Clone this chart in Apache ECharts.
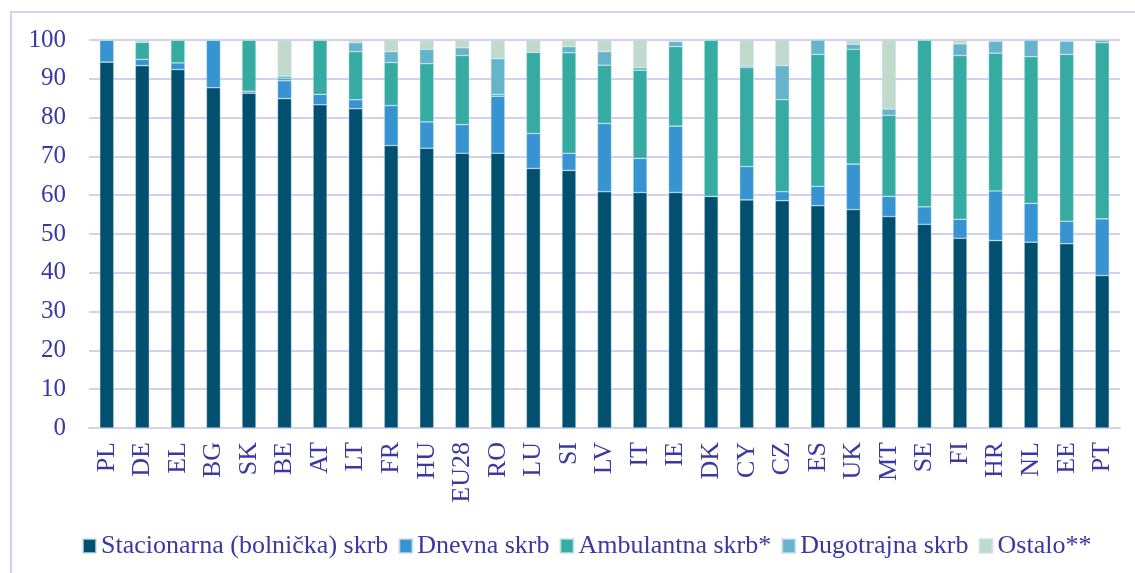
<!DOCTYPE html>
<html>
<head>
<meta charset="utf-8">
<script src="https://cdn.jsdelivr.net/npm/echarts@6/dist/echarts.min.js"></script>
<style>html,body{margin:0;padding:0;background:#fff;}#chart{width:1135px;height:573px;}</style>
</head>
<body>
<div id="chart"></div>
<script>
const categories = ['PL','DE','EL','BG','SK','BE','AT','LT','FR','HU','EU28','RO','LU','SI','LV','IT','IE','DK','CY','CZ','ES','UK','MT','SE','FI','HR','NL','EE','PT'];
const stacionarna = [94.3,93.4,92.4,87.7,86.3,84.9,83.3,82.3,72.8,72.1,70.8,70.8,66.9,66.4,60.9,60.7,60.7,59.7,58.8,58.6,57.3,56.3,54.5,52.5,48.9,48.3,47.9,47.5,39.3];
const dnevna      = [5.7,1.6,1.7,12.3,0.5,4.6,2.7,2.3,10.3,6.8,7.4,14.7,9.0,4.4,17.6,8.8,17.1,0,8.6,2.3,5.0,11.7,5.2,4.5,4.9,12.8,10.0,5.8,14.6];
const ambulantna  = [0,4.4,5.9,0,13.2,0.6,14.0,12.4,11.1,15.0,17.8,0.5,20.9,25.9,15.0,22.7,20.5,40.3,25.5,23.7,34.0,29.6,20.9,43.0,42.2,35.5,37.8,43.0,45.4];
const dugotrajna  = [0,0,0,0,0,0.6,0,2.3,2.8,3.7,2.0,9.2,0,1.6,3.5,0.7,1.3,0,0.4,8.8,3.7,1.3,1.6,0,3.0,3.1,4.3,3.4,0.7];
const ostalo      = [0,0.6,0,0,0,9.3,0,0.7,3.0,2.4,2.0,4.8,3.2,1.7,3.0,7.1,0.4,0,6.7,6.6,0,1.1,17.8,0,1.0,0.3,0,0.3,0];
const yTicks = [0,10,20,30,40,50,60,70,80,90,100];

const seriesNames = ['Stacionarna (bolnička) skrb','Dnevna skrb','Ambulantna skrb*','Dugotrajna skrb','Ostalo**'];
const seriesData = [stacionarna, dnevna, ambulantna, dugotrajna, ostalo];
const colors = ['#02506f','#3893d1','#35aba2','#66b3cc','#c2dacb'];

const txt = '#3b38a3';
const font = 'Liberation Serif';
const gridCol = '#d3d0f2';

const chart = echarts.init(document.getElementById('chart'));
chart.setOption({
  animation: false,
  color: colors,
  textStyle: { fontFamily: font },
  graphic: [{
    type: 'rect', shape: { x: 11, y: 12, width: 1200, height: 600 },
    style: { fill: 'none', stroke: gridCol, lineWidth: 2 }, silent: true
  }],
  grid: { left: 89, right: 15, top: 40, bottom: 145 },
  legend: {
    left: 77, top: 528,
    icon: 'rect', itemWidth: 13, itemHeight: 14, itemGap: 10,
    textStyle: { color: txt, fontSize: 26, fontFamily: font },
    data: seriesNames
  },
  xAxis: {
    type: 'category', data: categories,
    axisLine: { lineStyle: { color: gridCol, width: 2 } },
    axisTick: { show: false },
    axisLabel: { rotate: 90, color: txt, fontSize: 26, fontFamily: font, margin: 14, interval: 0 }
  },
  yAxis: {
    type: 'value', min: 0, max: 100, interval: 10,
    axisLine: { show: false }, axisTick: { show: false },
    splitLine: { lineStyle: { color: gridCol, width: 2 } },
    axisLabel: { color: txt, fontSize: 25, fontFamily: font, margin: 23,
      formatter: v => yTicks.includes(v) ? String(v) : '' }
  },
  series: seriesData.map((d, i) => ({
    name: seriesNames[i], type: 'bar', stack: 'total', data: d,
    barWidth: 14,
    itemStyle: { color: colors[i], borderColor: 'rgba(200,225,240,0.7)', borderWidth: 0.6 }
  }))
});
</script>
</body>
</html>
